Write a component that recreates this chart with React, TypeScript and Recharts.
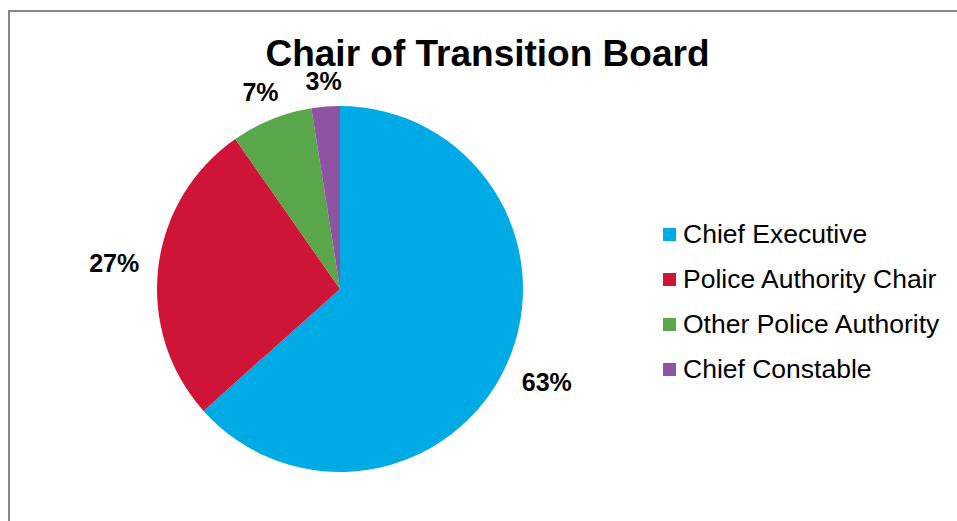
import { PieChart, Pie, Cell, Legend } from 'recharts';

const categories = ['Chief Executive', 'Police Authority Chair', 'Other Police Authority', 'Chief Constable'];
const shares = [63.4, 26.9, 7.2, 2.5];
const shareLabels = ['63%', '27%', '7%', '3%'];
const colors = ['#00ABE5', '#CE1437', '#5AA64A', '#8E54A1'];

const data = categories.map((name, i) => ({ name, value: shares[i] }));

const FONT = '"Liberation Sans", Arial, sans-serif';
const RAD = Math.PI / 180;

// outside labels, pushed out so the box edge sits a fixed gap from the pie
function renderLabel(props: any) {
  const { cx, cy, midAngle, outerRadius, index } = props;
  const text = shareLabels[index];
  const cos = Math.cos(-midAngle * RAD);
  const sin = Math.sin(-midAngle * RAD);
  const w = text.length * 16;
  const h = 8;
  const d = outerRadius + 20 + (Math.abs(cos) * w) / 2 + (Math.abs(sin) * h) / 2;
  return (
    <text
      x={cx + d * cos}
      y={cy + d * sin}
      textAnchor="middle"
      dominantBaseline="central"
      fontFamily={FONT}
      fontSize={25}
      fontWeight="bold"
      fill="#000"
    >
      {text}
    </text>
  );
}

// legend keeps the data order (recharts would sort it otherwise)
function renderLegend() {
  return (
    <div style={{ fontFamily: FONT, fontSize: 26.5, color: '#000' }}>
      {categories.map((name, i) => (
        <div key={`leg-${i}`} style={{ display: 'flex', alignItems: 'center', height: 45 }}>
          <span style={{ width: 13, height: 13, background: colors[i], marginRight: 7, flex: 'none' }} />
          <span style={{ whiteSpace: 'nowrap' }}>{name}</span>
        </div>
      ))}
    </div>
  );
}

export default function App() {
  return (
    <div
      style={{
        position: 'fixed',
        left: 8,
        top: 10,
        width: 1000,
        height: 560,
        border: '2px solid #888',
        background: '#fff',
      }}
    >
      <div
        style={{
          position: 'absolute',
          left: 0,
          top: 27.5,
          width: 955,
          textAlign: 'center',
          fontFamily: FONT,
          fontSize: 37,
          fontWeight: 'bold',
          lineHeight: '28px',
          color: '#000',
          zIndex: 1,
        }}
      >
        Chair of Transition Board
      </div>
      <PieChart width={996} height={556} margin={{ top: 0, right: 0, bottom: 0, left: 0 }}>
        <Pie
          data={data}
          dataKey="value"
          nameKey="name"
          cx={330}
          cy={277}
          outerRadius={183}
          startAngle={90}
          endAngle={-270}
          stroke="none"
          label={renderLabel}
          labelLine={false}
          isAnimationActive={false}
        >
          {data.map((entry, index) => (
            <Cell key={`cell-${index}`} fill={colors[index]} />
          ))}
        </Pie>
        <Legend
          layout="vertical"
          content={renderLegend}
          wrapperStyle={{ left: 653, top: 200, width: 320 }}
        />
      </PieChart>
    </div>
  );
}
